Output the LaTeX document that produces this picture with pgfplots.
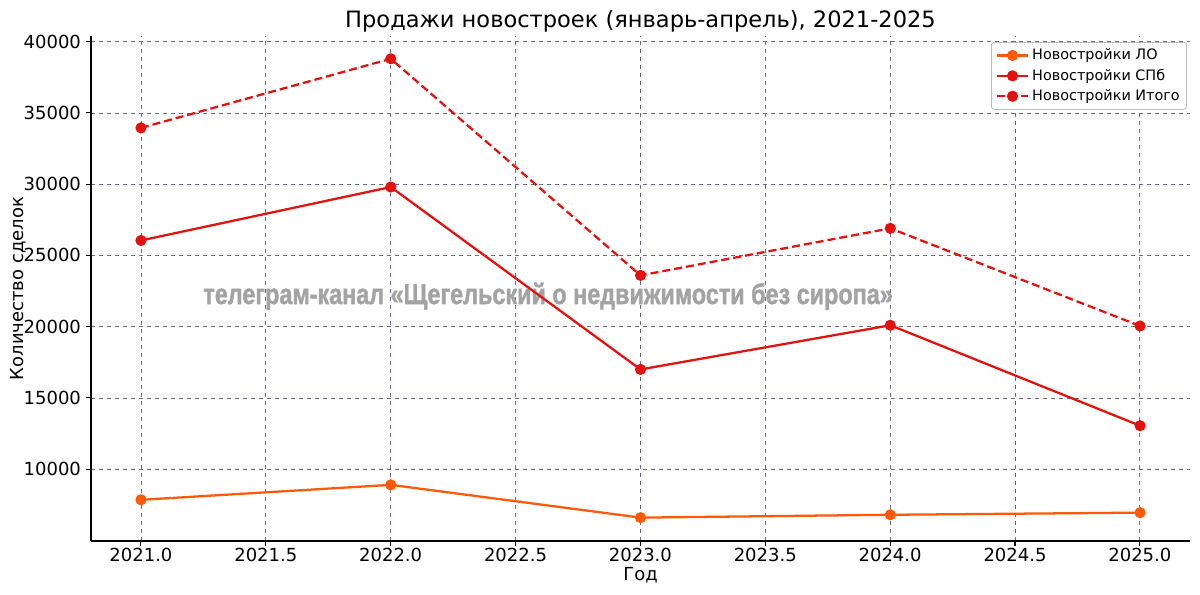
\documentclass[border=0pt]{standalone}
\usepackage{fontspec}
\setmainfont{DejaVu Sans}
\newfontfamily\wmfont{Liberation Sans}[BoldFeatures={FakeBold=1.6}]
\usepackage{graphicx}
\usepackage{pgfplots}
\pgfplotsset{compat=1.18}

\definecolor{clo}{HTML}{FF5A0A}
\definecolor{cspb}{HTML}{E3120E}
\definecolor{gridc}{HTML}{6E6E82}
\definecolor{wm}{HTML}{A3A3A3}

\begin{document}
\begin{tikzpicture}
\path[use as bounding box] (-68.25pt,-40.5pt) rectangle (831.75pt,405.75pt);
\begin{axis}[
  at={(0,0)}, anchor=south west,
  scale only axis,
  width=824.25pt, height=378.75pt,
  xmin=2020.8, xmax=2025.2,
  ymin=4960, ymax=40400,
  axis x line*=bottom, axis y line*=left,
  axis line style={line width=1.1pt, -},
  xtick={2021,2021.5,...,2025},
  ytick={10000,15000,...,40000},
  scaled ticks=false,
  tick align=outside,
  major tick length=4pt,
  tick style={black, line width=0.8pt},
  /pgf/number format/assume math mode=true,
  xticklabel={\pgfmathprintnumber[fixed,fixed zerofill,precision=1,1000 sep={}]{\tick}},
  yticklabel={\pgfmathprintnumber[fixed,precision=0,1000 sep={}]{\tick}},
  ticklabel style={font=\fontsize{13.5}{16}\selectfont},
  xticklabel style={yshift=2pt},
  grid=major,
  major grid style={gridc, dashed, line width=0.6pt},
  title={Продажи новостроек (январь-апрель), 2021-2025},
  title style={font=\fontsize{16.9}{19}\selectfont, yshift=-6.5pt},
  xlabel={Год},
  ylabel={Количество сделок},
  label style={font=\fontsize{13.5}{16}\selectfont},
  xlabel style={yshift=3pt},
  ylabel style={yshift=-8.5pt},
  legend style={at={(rel axis cs:0.997,0.988)}, anchor=north east,
    font=\fontsize{10.8}{13}\selectfont, draw=gray!80, rounded corners=2pt,
    row sep=1.5pt, inner sep=3pt},
  legend cell align=left,
  legend image code/.code={\draw[mark repeat=2,mark phase=2]
    plot coordinates {(0cm,0cm) (0.42cm,0cm) (0.84cm,0cm)};},
]
\node[text=wm, inner sep=0pt] at (axis cs:2022.63,22130)
  {\resizebox{517pt}{16pt}{\wmfont\bfseries телеграм-канал «Щегельский о недвижимости без сиропа»}};

\addplot[clo, line width=1.7pt, mark=*, mark size=3.3pt, mark options={solid}] coordinates {
(2021,7850) (2022,8900) (2023,6600) (2024,6800) (2025,6950)
};
\addlegendentry{Новостройки ЛО}
\addplot[cspb, line width=1.7pt, mark=*, mark size=3.3pt, mark options={solid}] coordinates {
(2021,26050) (2022,29800) (2023,17000) (2024,20100) (2025,13050)
};
\addlegendentry{Новостройки СПб}
\addplot[cspb, line width=1.7pt, dashed, dash pattern=on 6pt off 3pt, mark=*, mark size=3.3pt, mark options={solid}] coordinates {
(2021,33950) (2022,38800) (2023,23600) (2024,26900) (2025,20050)
};
\addlegendentry{Новостройки Итого}
\end{axis}
\end{tikzpicture}
\end{document}
